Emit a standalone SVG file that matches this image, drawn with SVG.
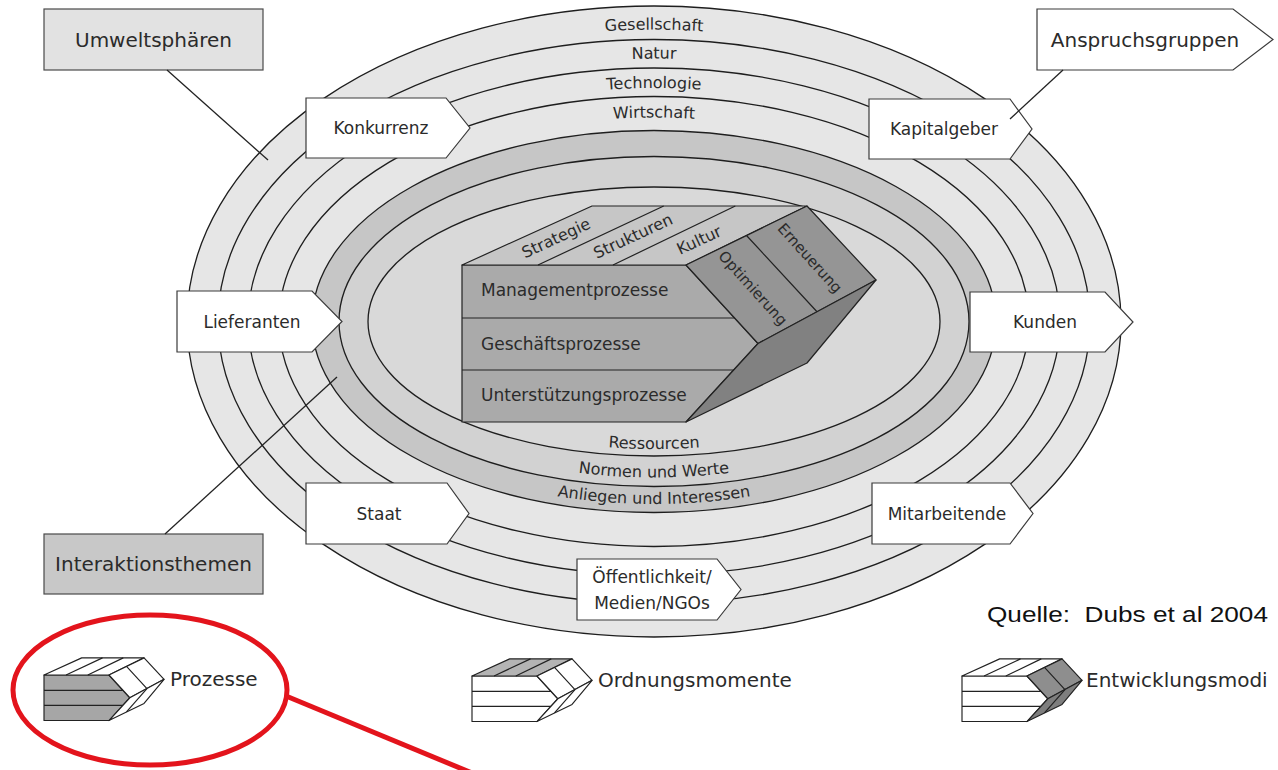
<svg xmlns="http://www.w3.org/2000/svg" width="1278" height="770" viewBox="0 0 1278 770">
  <style>
    .bg { fill: #ffffff; }
    .ring { stroke: #1e1e1e; stroke-width: 1.3; }
    .light { fill: #e6e6e6; }
    .dark { fill: #c6c6c6; }
    .mid { fill: #d2d2d2; }
    .core { fill: #d9d9d9; }
    .lbl { font-family: "DejaVu Sans", "Liberation Sans", sans-serif; fill: #2b2b2b; }
    .ringtxt { font-size: 16px; }
    .boxtxt { font-size: 17px; text-anchor: middle; }
    .bigtxt { font-size: 20px; text-anchor: middle; }
    .cubetxt { font-size: 17px; }
    .facetxt { font-size: 16px; text-anchor: middle; }
    .legtxt { font-size: 20px; }
    .box { fill: #ffffff; stroke: #3a3a3a; stroke-width: 1.2; }
    .cat1 { fill: #e2e2e2; stroke: #4a4a4a; stroke-width: 1.2; }
    .cat2 { fill: #c8c8c8; stroke: #4a4a4a; stroke-width: 1.2; }
    .conn { stroke: #222222; stroke-width: 1.3; fill: none; }
    .mark { stroke: #e3141c; stroke-width: 5; fill: none; }
    .src { font-family: "Liberation Sans", Arial, sans-serif; font-size: 22px; fill: #111111; }
  </style>
  <defs>
    <!-- label baselines, concentric with the rings -->
    <path id="p-ges" d="M210.5,321.5 A443.5,292 0 0 1 1097.5,321.5"/>
    <path id="p-nat" d="M240,321.5 A414,263 0 0 1 1068,321.5"/>
    <path id="p-tec" d="M269.5,321.5 A384.5,233.5 0 0 1 1038.5,321.5"/>
    <path id="p-wir" d="M299,321.5 A355,204 0 0 1 1009,321.5"/>
    <path id="p-res" d="M375.5,321.5 A278.5,127.5 0 0 0 932.5,321.5"/>
    <path id="p-nor" d="M347,321.5 A307,156 0 0 0 961,321.5"/>
    <path id="p-anl" d="M320.5,321.5 A333.5,182.5 0 0 0 987.5,321.5"/>
    <!-- prism faces, origin at the front top-left corner -->
    <path id="f-front" d="M0,0 H224 L296,78.5 L224,157 H0 Z"/>
    <path id="f-top" d="M0,0 L130,-59 H345 L224,0 Z"/>
    <path id="f-upper" d="M224,0 L345,-59 L414,15 L296,78.5 Z"/>
    <path id="f-lower" d="M296,78.5 L414,15 L345,98 L224,157 Z"/>
    <path id="f-lines" d="M0,53 H272.6 M0,105 H271.7 M76,0 L201.7,-59 M151,0 L273.3,-59 M284.5,-29.5 L355,46.75"/>
  </defs>

  <rect class="bg" x="0" y="0" width="1278" height="770"/>

  <!-- environment rings and inner zones -->
  <g id="ringe">
    <ellipse class="ring light" cx="654" cy="321.5" rx="467" ry="315.5"/>
    <ellipse class="ring light" cx="654" cy="321.5" rx="436" ry="282"/>
    <ellipse class="ring light" cx="654" cy="321.5" rx="406" ry="253.5"/>
    <ellipse class="ring light" cx="654" cy="321.5" rx="375" ry="225"/>
    <ellipse class="ring dark" cx="654" cy="321.5" rx="342" ry="191"/>
    <ellipse class="ring mid" cx="654" cy="321.5" rx="315" ry="165"/>
    <ellipse class="ring core" cx="654" cy="321.5" rx="286" ry="134.5"/>
  </g>

  <g id="ring-gesellschaft"><text class="lbl ringtxt"><textPath href="#p-ges" startOffset="50%" text-anchor="middle">Gesellschaft</textPath></text></g>
  <g id="ring-natur"><text class="lbl ringtxt"><textPath href="#p-nat" startOffset="50%" text-anchor="middle">Natur</textPath></text></g>
  <g id="ring-technologie"><text class="lbl ringtxt"><textPath href="#p-tec" startOffset="50%" text-anchor="middle">Technologie</textPath></text></g>
  <g id="ring-wirtschaft"><text class="lbl ringtxt"><textPath href="#p-wir" startOffset="50%" text-anchor="middle">Wirtschaft</textPath></text></g>
  <g id="ring-ressourcen"><text class="lbl ringtxt"><textPath href="#p-res" startOffset="50%" text-anchor="middle">Ressourcen</textPath></text></g>
  <g id="ring-normen"><text class="lbl ringtxt"><textPath href="#p-nor" startOffset="50%" text-anchor="middle">Normen und Werte</textPath></text></g>
  <g id="ring-anliegen"><text class="lbl ringtxt"><textPath href="#p-anl" startOffset="50%" text-anchor="middle">Anliegen und Interessen</textPath></text></g>

  <!-- the company as a prism -->
  <g id="unternehmen">
    <g transform="translate(462,265)" stroke="#222" stroke-width="1.2" stroke-linejoin="round">
      <use href="#f-front" fill="#aaaaaa"/>
      <use href="#f-top" fill="#c6c6c6"/>
      <use href="#f-upper" fill="#959595"/>
      <use href="#f-lower" fill="#818181"/>
      <use href="#f-lines" fill="none"/>
    </g>
    <text class="lbl cubetxt" x="481" y="296">Managementprozesse</text>
    <text class="lbl cubetxt" x="481" y="349.5">Geschäftsprozesse</text>
    <text class="lbl cubetxt" x="481" y="401">Unterstützungsprozesse</text>
    <text class="lbl facetxt" transform="translate(556,238) rotate(-25)" dy="0.35em">Strategie</text>
    <text class="lbl facetxt" transform="translate(633,236) rotate(-25)" dy="0.35em">Strukturen</text>
    <text class="lbl facetxt" transform="translate(699,240) rotate(-25)" dy="0.35em">Kultur</text>
    <text class="lbl facetxt" style="font-size:15px" transform="translate(753,288) rotate(48)" dy="0.35em">Optimierung</text>
    <text class="lbl facetxt" style="font-size:15px" transform="translate(810,258) rotate(48)" dy="0.35em">Erneuerung</text>
  </g>

  <!-- stakeholder arrows -->
  <g id="konkurrenz">
    <polygon class="box" points="306,98 446,98 470,128 446,158 306,158"/>
    <text class="lbl boxtxt" x="381" y="134">Konkurrenz</text>
  </g>
  <g id="kapitalgeber">
    <polygon class="box" points="869,99 1010,99 1032,129 1010,159 869,159"/>
    <text class="lbl boxtxt" x="944" y="135">Kapitalgeber</text>
  </g>
  <g id="lieferanten">
    <polygon class="box" points="177,291 312,291 342,321.5 312,352 177,352"/>
    <text class="lbl boxtxt" x="252" y="327.5">Lieferanten</text>
  </g>
  <g id="kunden">
    <polygon class="box" points="970,292 1105,292 1133,322 1105,352 970,352"/>
    <text class="lbl boxtxt" x="1045" y="328">Kunden</text>
  </g>
  <g id="staat">
    <polygon class="box" points="306,483 447,483 469,513.5 447,544 306,544"/>
    <text class="lbl boxtxt" x="379" y="519.5">Staat</text>
  </g>
  <g id="mitarbeitende">
    <polygon class="box" points="872,483 1010,483 1033,513.5 1010,544 872,544"/>
    <text class="lbl boxtxt" x="947" y="519.5">Mitarbeitende</text>
  </g>
  <g id="oeffentlichkeit">
    <polygon class="box" points="577,559 717,559 741,589.5 717,620 577,620"/>
    <text class="lbl boxtxt" x="652" y="583">Öffentlichkeit/</text>
    <text class="lbl boxtxt" x="652" y="609">Medien/NGOs</text>
  </g>

  <!-- category labels -->
  <g id="umweltsphaeren">
    <rect class="cat1" x="44" y="9" width="219" height="61"/>
    <text class="lbl bigtxt" x="153.5" y="46.5">Umweltsphären</text>
  </g>
  <g id="interaktionsthemen">
    <rect class="cat2" x="44" y="534" width="219" height="60"/>
    <text class="lbl bigtxt" x="153.5" y="571">Interaktionsthemen</text>
  </g>
  <g id="anspruchsgruppen">
    <polygon class="box" points="1037,9 1233,9 1273,39.5 1233,70 1037,70"/>
    <text class="lbl bigtxt" x="1145" y="46.5">Anspruchsgruppen</text>
  </g>

  <g id="connectors">
    <line class="conn" x1="167" y1="70" x2="268" y2="160"/>
    <line class="conn" x1="165" y1="534" x2="337" y2="377"/>
    <line class="conn" x1="1063" y1="70" x2="1010" y2="119"/>
    <line class="mark" x1="286" y1="696" x2="472" y2="773"/>
  </g>

  <g id="quelle">
    <text class="src" x="987" y="622" xml:space="preserve" textLength="281" lengthAdjust="spacingAndGlyphs">Quelle:  Dubs et al 2004</text>
  </g>

  <!-- legend -->
  <g id="legende-prozesse">
    <g transform="translate(44,675) scale(0.29)" stroke="#222" stroke-width="4" stroke-linejoin="round">
      <use href="#f-front" fill="#a6a6a6"/>
      <use href="#f-top" fill="#ffffff"/>
      <use href="#f-upper" fill="#ffffff"/>
      <use href="#f-lower" fill="#ffffff"/>
      <use href="#f-lines" fill="none"/>
      <path d="M355,46.75 L284.5,127.5" fill="none"/>
    </g>
    <text class="lbl legtxt" x="170" y="686">Prozesse</text>
  </g>
  <g id="legende-ordnungsmomente">
    <g transform="translate(472,676) scale(0.29)" stroke="#222" stroke-width="4" stroke-linejoin="round">
      <use href="#f-front" fill="#ffffff"/>
      <use href="#f-top" fill="#b4b4b4"/>
      <use href="#f-upper" fill="#ffffff"/>
      <use href="#f-lower" fill="#ffffff"/>
      <use href="#f-lines" fill="none"/>
      <path d="M355,46.75 L284.5,127.5" fill="none"/>
    </g>
    <text class="lbl legtxt" x="598" y="687">Ordnungsmomente</text>
  </g>
  <g id="legende-entwicklungsmodi">
    <g transform="translate(962,676) scale(0.29)" stroke="#222" stroke-width="4" stroke-linejoin="round">
      <use href="#f-front" fill="#ffffff"/>
      <use href="#f-top" fill="#ffffff"/>
      <use href="#f-upper" fill="#8e8e8e"/>
      <use href="#f-lower" fill="#7e7e7e"/>
      <use href="#f-lines" fill="none"/>
      <path d="M355,46.75 L284.5,127.5" fill="none"/>
    </g>
    <text class="lbl legtxt" x="1086" y="687">Entwicklungsmodi</text>
  </g>

  <g id="markierung">
    <ellipse class="mark" cx="150" cy="690" rx="137" ry="75"/>
  </g>
</svg>
